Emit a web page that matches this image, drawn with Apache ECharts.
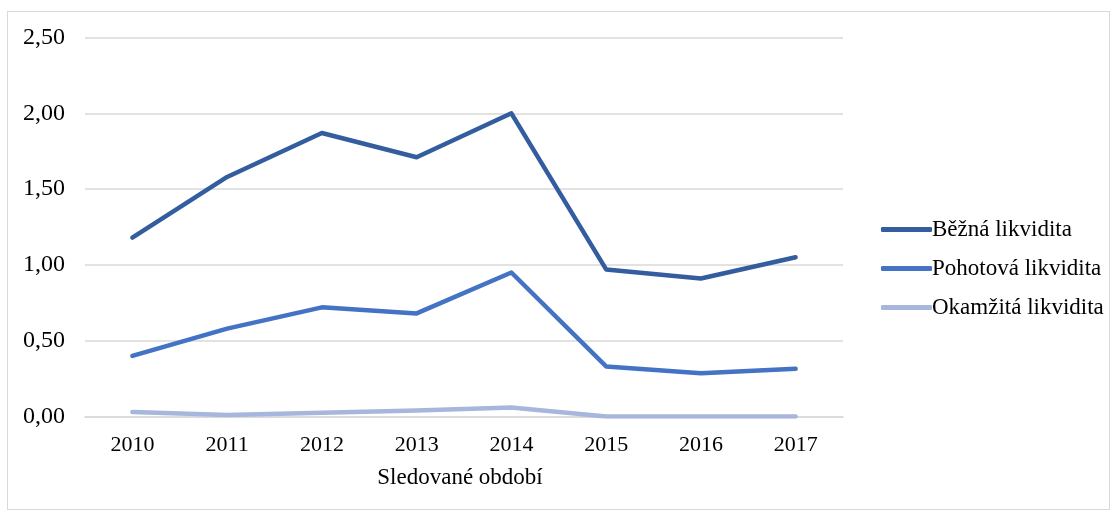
<!DOCTYPE html>
<html>
<head>
<meta charset="utf-8">
<script src="https://cdn.jsdelivr.net/npm/echarts@6/dist/echarts.min.js"></script>
<style>
  html, body { margin: 0; padding: 0; background: #fff; }
  #chart { width: 1115px; height: 515px; }
  .frame { position: absolute; left: 7px; top: 11px; width: 1101px; height: 497px; border: 1px solid #d9d9d9; pointer-events: none; }
</style>
</head>
<body>
<div id="chart"></div>
<div class="frame"></div>
<script>
// data
const years = ['2010', '2011', '2012', '2013', '2014', '2015', '2016', '2017'];
const bezna = [1.18, 1.58, 1.87, 1.71, 2.00, 0.97, 0.91, 1.05];
const pohotova = [0.40, 0.58, 0.72, 0.68, 0.95, 0.33, 0.285, 0.315];
const okamzita = [0.03, 0.01, 0.025, 0.04, 0.06, 0.00, 0.00, 0.00];
const seriesNames = ['Běžná likvidita', 'Pohotová likvidita', 'Okamžitá likvidita'];
const seriesColors = ['#335D9F', '#4472C4', '#A7B6DC'];

let myChart = echarts.init(document.getElementById('chart'));
let font = '"Liberation Serif", "Times New Roman", serif';
let seriesData = [bezna, pohotova, okamzita];
let option = {
  animation: false,
  textStyle: { fontFamily: font },
  grid: { left: 85, right: 272, top: 37.5, bottom: 98.5, containLabel: false },
  legend: {
    orient: 'vertical',
    left: 876,
    top: 213,
    itemGap: 16,
    itemWidth: 51,
    itemHeight: 5,
    icon: 'roundRect',
    textStyle: { fontFamily: font, fontSize: 23, color: '#000', padding: [0, 0, 0, -5] },
    data: seriesNames
  },
  xAxis: {
    type: 'category',
    data: years,
    boundaryGap: true,
    name: 'Sledované období',
    nameLocation: 'middle',
    nameGap: 50,
    nameTextStyle: { fontFamily: font, fontSize: 23, color: '#000', padding: [0, 8, 0, 0] },
    axisLine: { show: true, lineStyle: { color: '#d9d9d9', width: 1.5 } },
    axisTick: { show: false },
    axisLabel: { fontFamily: font, fontSize: 22, color: '#000', margin: 18 }
  },
  yAxis: {
    type: 'value',
    min: 0,
    max: 2.5,
    interval: 0.5,
    axisLine: { show: false },
    axisTick: { show: false },
    splitLine: { lineStyle: { color: '#d9d9d9', width: 1.5 } },
    axisLabel: {
      fontFamily: font, fontSize: 24, color: '#000', margin: 20,
      formatter: v => v.toFixed(2).replace('.', ',')
    }
  },
  series: []
};
for (let i = 0; i < seriesData.length; i++) {
  option.series.push({
    name: seriesNames[i],
    type: 'line',
    data: seriesData[i],
    symbol: 'none',
    smooth: false,
    color: seriesColors[i],
    lineStyle: { width: 4.5, color: seriesColors[i], cap: 'round', join: 'round' },
    z: 10 - i
  });
}
myChart.setOption(option);
</script>
</body>
</html>
